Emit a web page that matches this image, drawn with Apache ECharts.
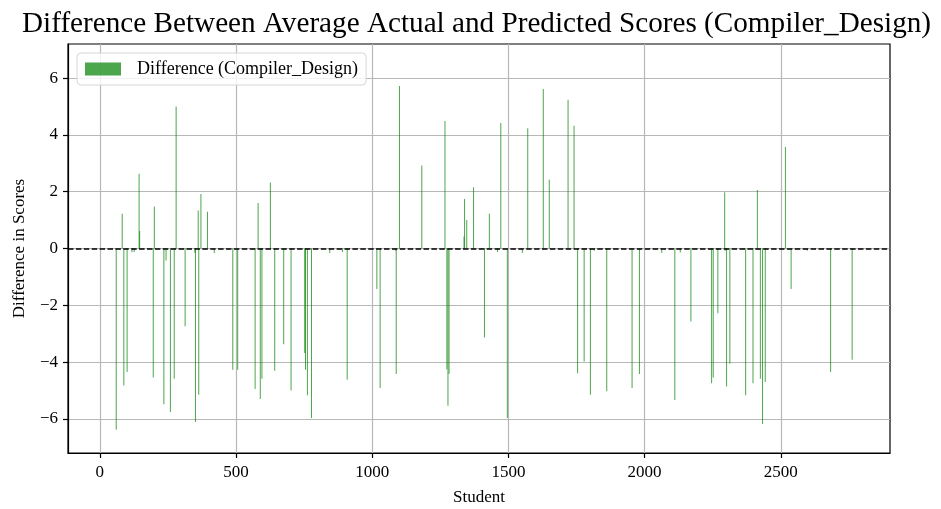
<!DOCTYPE html>
<html>
<head>
<meta charset="utf-8">
<script src="https://cdn.jsdelivr.net/npm/echarts@6/dist/echarts.min.js"></script>
<style>
  html, body { margin: 0; padding: 0; background: #fff; }
  #chart { width: 941px; height: 509px; }
</style>
</head>
<body>
<div id="chart"></div>
<script>
// student index of each visible bar
const students = [
  60, 82, 88, 100, 118, 126, 144, 146, 196, 200, 235, 243, 259, 273, 280, 313,
  349, 351, 361, 363, 371, 395, 420, 488, 506, 570, 581, 589, 595, 626, 642,
  675, 702, 752, 755, 762, 777, 844, 891, 908, 1017, 1029, 1086, 1088, 1100,
  1182, 1267, 1274, 1278, 1282, 1337, 1339, 1347, 1372, 1412, 1430, 1460, 1472,
  1496, 1551, 1571, 1628, 1650, 1719, 1741, 1754, 1778, 1801, 1815, 1861, 1954,
  1981, 2063, 2111, 2131, 2170, 2246, 2252, 2269, 2294, 2296, 2301, 2313, 2371,
  2398, 2414, 2425, 2433, 2443, 2517, 2538, 2597, 2683, 2762
];
// average actual minus predicted score for those students
const diffs = [
  -6.38, 1.22, -4.82, -4.35, -0.12, -0.12, 2.63, 0.62, -4.54, 1.48, -5.48, -0.42, -5.76, -4.59, 5.0, -2.74,
  -0.16, -6.11, 1.34, -5.15, 1.92, 1.29, -0.16, -4.27, -4.27, -4.95, 1.6, -5.3, -4.59, 2.32, -4.3,
  -3.37, -5.0, -3.68, -4.27, -5.17, -5.97, -0.16, -0.12, -4.62, -1.43, -4.91, -0.08, -4.42, 5.72,
  2.92, 4.49, -4.25, -5.54, -4.42, 0.42, 1.74, 1.0, 2.16, -3.13, 1.22, -0.12, 4.42,
  -5.97, -0.16, 4.23, 5.62, 2.42, 5.24, 4.32, -4.39, -3.98, -5.15, -0.08, -5.03, -4.91,
  -4.42, -0.16, -5.33, -0.14, -2.57, -4.74, -4.54, -2.28, 1.98, -0.08, -4.86, -4.06, -5.17,
  -4.74, 2.06, -4.59, -6.18, -4.70, 3.57, -1.43, -0.08, -4.35, -3.92
];
const xTicks = [0, 500, 1000, 1500, 2000, 2500];
const yTicks = [-6, -4, -2, 0, 2, 4, 6];

const serif = 'Liberation Serif';
const chart = echarts.init(document.getElementById('chart'));

// matplotlib style: no thousands separator, real minus sign
const plainLabel = v => String(v).replace('-', '\u2212');

const option = {
  animation: false,
  backgroundColor: '#fff',
  title: {
    text: 'Difference Between Average Actual and Predicted Scores (Compiler_Design)',
    left: 17,
    top: 5,
    textStyle: { fontFamily: serif, fontSize: 29.2, fontWeight: 'normal', color: '#000' }
  },
  legend: {
    left: 77,
    top: 53,
    itemWidth: 36,
    itemHeight: 13,
    padding: [7, 8, 7, 8],
    borderColor: '#d6d6d6',
    borderWidth: 1,
    borderRadius: 4,
    backgroundColor: 'rgba(255,255,255,0.8)',
    icon: 'rect',
    textStyle: { fontFamily: serif, fontSize: 18, color: '#000', padding: [0, 0, 0, 11] },
    data: ['Difference (Compiler_Design)']
  },
  grid: {
    left: 68, right: 51, top: 44, bottom: 56,
    outerBoundsMode: 'none',
    show: true,
    borderColor: '#000',
    borderWidth: 1.2
  },
  xAxis: {
    type: 'value',
    min: -117,
    max: 2901,
    name: 'Student',
    nameLocation: 'middle',
    nameGap: 36,
    nameTextStyle: { fontFamily: serif, fontSize: 17, color: '#000' },
    axisLine: { show: true, onZero: false, lineStyle: { color: '#000', width: 1.2 } },
    axisTick: { show: true, inside: false, length: 5, customValues: xTicks, lineStyle: { color: '#000', width: 1.2 } },
    axisLabel: { customValues: xTicks, margin: 11, formatter: plainLabel, fontFamily: serif, fontSize: 17, color: '#000' },
    splitLine: { show: true, lineStyle: { color: '#b8b8b8', width: 1.2 } }
  },
  yAxis: {
    type: 'value',
    min: -7.2,
    max: 7.2,
    name: 'Difference in Scores',
    nameLocation: 'middle',
    nameGap: 40,
    nameTextStyle: { fontFamily: serif, fontSize: 17, color: '#000' },
    axisLine: { show: true, onZero: false, lineStyle: { color: '#000', width: 1.2 } },
    axisTick: { show: true, inside: false, length: 5, customValues: yTicks, lineStyle: { color: '#000', width: 1.2 } },
    axisLabel: { customValues: yTicks, margin: 10, formatter: plainLabel, fontFamily: serif, fontSize: 17, color: '#000' },
    splitLine: { show: true, lineStyle: { color: '#b8b8b8', width: 1.2 } }
  },
  series: [
    {
      name: 'Difference (Compiler_Design)',
      type: 'bar',
      barWidth: 0.45,
      itemStyle: { color: 'rgba(0,128,0,0.7)' },
      data: students.map((s, i) => [s, diffs[i]]),
      markLine: {
        silent: true,
        symbol: 'none',
        label: { show: false },
        lineStyle: { color: '#000', type: [5.5, 2.4], width: 1.5 },
        data: [{ yAxis: 0 }]
      }
    }
  ]
};

chart.setOption(option);
</script>
</body>
</html>
